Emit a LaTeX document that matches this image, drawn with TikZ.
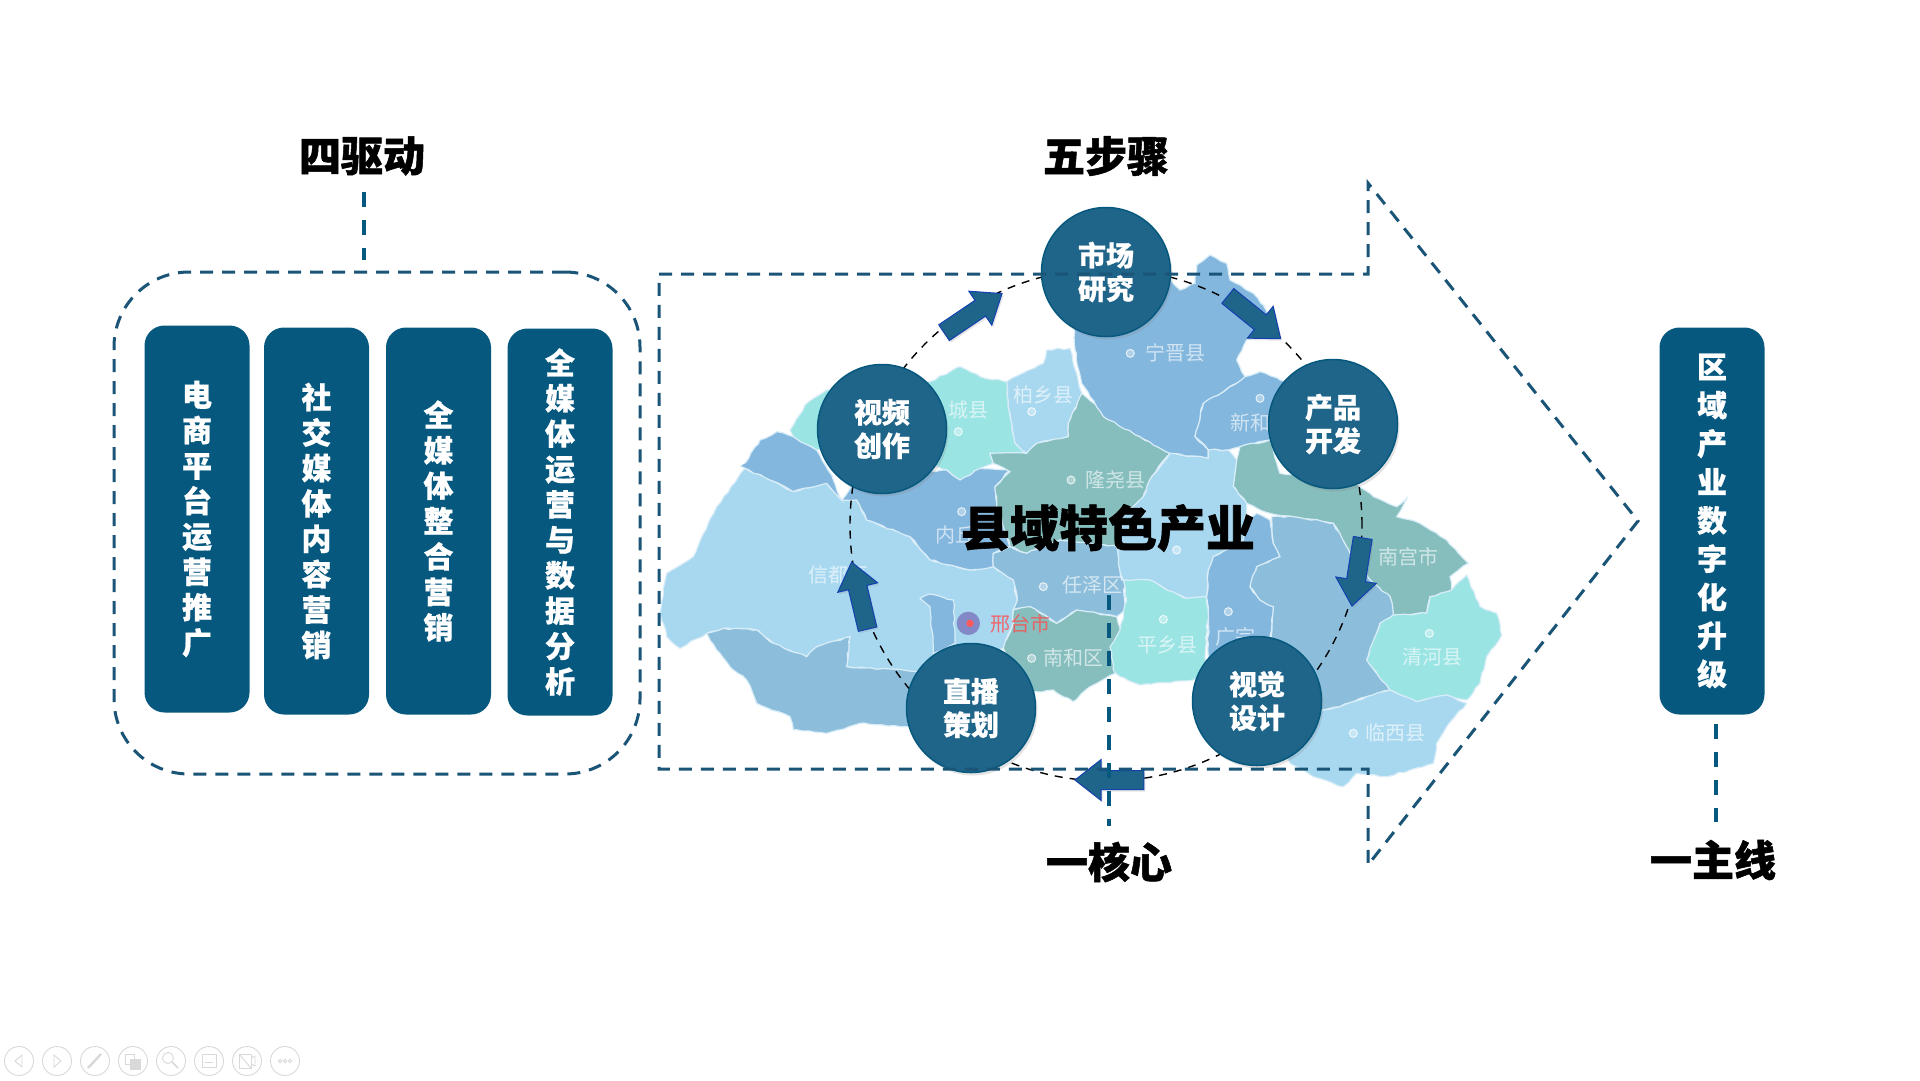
\documentclass[tikz,border=0pt]{standalone}
\usepackage{fontspec}
\setmainfont{Noto Sans CJK SC}[BoldFeatures={FakeBold=0.6}]
\newfontfamily\headfont{Noto Sans CJK SC}[BoldFeatures={FakeBold=1.2}]
\usetikzlibrary{positioning, shapes.arrows, shadows, decorations.pathmorphing}
\definecolor{boxblue}{HTML}{06587F}
\definecolor{stepblue}{HTML}{1F6489}
\definecolor{dashblue}{HTML}{1A5578}
\definecolor{mapsky}{HTML}{A8D8F0}
\definecolor{mapmid}{HTML}{84B7DE}
\definecolor{mapdeep}{HTML}{8CBEDC}
\definecolor{mapteal}{HTML}{86BEBE}
\definecolor{mapaqua}{HTML}{9BE4E4}
\definecolor{toolgray}{HTML}{D9D9D9}
\tikzset{
  drvbox/.style={fill=boxblue,rounded corners=20pt,minimum width=105pt,minimum height=387pt,text=white,align=center,inner sep=0pt,font=\bfseries\fontsize{30}{35.4}\selectfont},
  stepnode/.style={circle,fill=stepblue,draw=boxblue,line width=1.5pt,minimum size=129pt,inner sep=0pt,text=white,align=center,font=\bfseries\fontsize{28}{33.5}\selectfont,drop shadow={opacity=0.22,shadow xshift=2pt,shadow yshift=-3pt}},
  steparrow/.style={single arrow,fill=stepblue,draw=blue!35!stepblue,line width=1pt,inner xsep=0pt,inner ysep=9pt,single arrow head extend=11pt,single arrow tip angle=76,single arrow head indent=0pt,drop shadow={opacity=0.2,shadow xshift=1.5pt,shadow yshift=-2pt}},
  headtext/.style={inner sep=0pt,font=\headfont\bfseries\fontsize{42}{42}\selectfont},
  thinlink/.style={dashblue,line width=3pt,dash pattern=on 13pt off 9pt},
  leadlink/.style={boxblue,line width=4.5pt,dash pattern=on 15pt off 13pt},
  mapreg/.style={draw=white!55!mapsky,line width=1.2pt,decorate,decoration={random steps,segment length=6pt,amplitude=0.9pt}},
  maplabel/.style={text=white,opacity=0.62,inner sep=0pt,font=\fontsize{20}{20}\selectfont},
  mapW/.style={shift={(660,340)},x=0.33333pt,y=-0.33333pt},
  mapN/.style={shift={(1080,240)},x=0.33333pt,y=-0.33333pt},
  mapS/.style={shift={(1080,500)},x=0.33333pt,y=-0.33333pt},
  mapmark/.style={draw=white,fill=white,fill opacity=0.35,draw opacity=0.75,line width=1pt},
  tool/.style={toolgray,line width=0.9pt}
}
\pgfmathsetseed{11}
\begin{document}
\begin{tikzpicture}[x=1pt,y=-1pt]
\useasboundingbox[fill=white] (0,0) rectangle (1920,1080);

% map, west part
\begin{scope}[mapW]
\fill[mapreg,fill=mapsky] (20,700) -- (100,650) -- (170,500) -- (255,385) -- (330,420) -- (400,455) -- (500,430) -- (545,480) -- (590,480) -- (620,540) -- (750,590) -- (810,660) -- (930,690) -- (1000,680) -- (1060,720) -- (1072,780) -- (1060,810) -- (1060,850) -- (1030,925) -- (900,960) -- (800,1000) -- (560,980) -- (570,890) -- (470,920) -- (440,950) -- (340,910) -- (290,870) -- (190,865) -- (140,880) -- (60,925) -- (20,890) -- (0,820) -- cycle;
\fill[mapreg,fill=mapdeep] (140,880) -- (190,865) -- (290,870) -- (340,910) -- (440,950) -- (470,920) -- (570,890) -- (560,980) -- (790,995) -- (830,1100) -- (800,1170) -- (720,1160) -- (600,1150) -- (500,1180) -- (400,1170) -- (390,1130) -- (290,1090) -- (260,1020) -- (210,980) -- (170,930) -- cycle;
\fill[mapreg,fill=mapmid] (255,370) -- (300,300) -- (350,275) -- (400,290) -- (470,330) -- (520,420) -- (545,480) -- (500,430) -- (400,455) -- (330,420) -- (255,385) -- cycle;
\fill[mapreg,fill=mapaqua] (390,270) -- (435,195) -- (500,150) -- (810,125) -- (900,80) -- (960,110) -- (1040,125) -- (1045,200) -- (1065,310) -- (1100,340) -- (990,340) -- (1000,370) -- (960,385) -- (900,420) -- (860,390) -- (600,300) -- (470,330) -- (400,290) -- cycle;
\fill[mapreg,fill=mapsky] (1040,125) -- (1150,70) -- (1160,30) -- (1230,25) -- (1250,100) -- (1265,160) -- (1225,250) -- (1225,290) -- (1130,310) -- (1100,340) -- (1065,310) -- (1045,200) -- cycle;
\fill[mapreg,fill=mapmid] (860,390) -- (900,420) -- (960,385) -- (1050,390) -- (1005,440) -- (1010,490) -- (1050,620) -- (1000,640) -- (1000,680) -- (930,690) -- (810,660) -- (750,590) -- (620,540) -- (590,480) -- (545,480) -- (600,400) -- (700,400) -- cycle;
\fill[mapreg,fill=mapteal] (990,340) -- (1100,340) -- (1130,310) -- (1225,290) -- (1225,250) -- (1265,160) -- (1330,210) -- (1440,290) -- (1530,340) -- (1475,410) -- (1450,470) -- (1380,610) -- (1370,620) -- (1200,600) -- (1100,640) -- (1050,620) -- (1010,490) -- (1005,440) -- (1050,395) -- (1000,370) -- cycle;
\fill[mapreg,fill=mapdeep] (1000,640) -- (1050,620) -- (1100,640) -- (1200,600) -- (1370,620) -- (1385,720) -- (1410,710) -- (1390,750) -- (1395,810) -- (1370,830) -- (1250,810) -- (1190,850) -- (1110,800) -- (1060,810) -- (1072,780) -- (1060,720) -- (1000,680) -- cycle;
\fill[mapreg,fill=mapteal] (1060,810) -- (1110,800) -- (1190,850) -- (1250,810) -- (1370,830) -- (1385,880) -- (1355,930) -- (1365,1000) -- (1290,1040) -- (1240,1085) -- (1180,1050) -- (1100,1060) -- (1030,925) -- (1060,850) -- cycle;
\fill[mapreg,fill=mapmid] (780,775) -- (810,762) -- (880,780) -- (885,910) -- (820,940) -- (810,800) -- cycle;
\fill[fill=mapmid!75!violet] (925,850) circle (35);
\fill[red!65!white] (930,850) circle (11);
\end{scope}

% map, north part
\begin{scope}[mapN]
\fill[mapreg,fill=mapmid] (-20,100) -- (272,120) -- (300,150) -- (345,130) -- (350,75) -- (390,45) -- (440,70) -- (450,120) -- (520,160) -- (550,195) -- (590,280) -- (500,300) -- (470,360) -- (495,410) -- (470,430) -- (370,490) -- (345,590) -- (385,630) -- (385,655) -- (270,640) -- (180,590) -- (70,530) -- (5,430) -- (-15,330) -- cycle;
\fill[mapreg,fill=mapmid] (495,410) -- (540,395) -- (600,420) -- (700,450) -- (700,600) -- (570,600) -- (480,620) -- (445,630) -- (385,630) -- (345,590) -- (370,490) -- (470,430) -- cycle;
\fill[mapreg,fill=mapsky] (270,640) -- (385,655) -- (385,630) -- (445,630) -- (470,660) -- (460,740) -- (500,790) -- (500,840) -- (490,900) -- (400,950) -- (385,990) -- (380,1070) -- (320,1075) -- (260,1050) -- (210,1020) -- (130,1020) -- (115,970) -- (110,910) -- (120,840) -- (190,770) -- (215,710) -- cycle;
\fill[mapreg,fill=mapteal] (480,620) -- (570,600) -- (600,700) -- (830,730) -- (880,770) -- (950,800) -- (980,775) -- (950,830) -- (1020,850) -- (1100,900) -- (1165,970) -- (1110,1010) -- (1115,1050) -- (1050,1070) -- (1040,1120) -- (940,1125) -- (930,1070) -- (880,1030) -- (810,940) -- (760,850) -- (640,830) -- (570,820) -- (500,790) -- (460,740) -- (470,660) -- cycle;
\end{scope}

% map, south part
\begin{scope}[mapS]
\fill[mapreg,fill=mapaqua] (130,240) -- (210,240) -- (260,270) -- (320,295) -- (380,290) -- (385,340) -- (375,470) -- (385,520) -- (340,540) -- (180,555) -- (120,530) -- (100,510) -- (90,440) -- (120,390) -- (140,300) -- cycle;
\fill[mapreg,fill=mapmid] (530,40) -- (570,60) -- (580,130) -- (600,170) -- (530,200) -- (510,260) -- (540,300) -- (580,320) -- (570,440) -- (385,470) -- (385,340) -- (380,290) -- (385,210) -- (400,170) -- (490,120) -- (500,60) -- cycle;
\fill[mapreg,fill=mapdeep] (575,50) -- (640,50) -- (760,70) -- (810,160) -- (880,250) -- (930,290) -- (940,345) -- (900,370) -- (860,480) -- (930,570) -- (860,590) -- (780,620) -- (730,630) -- (600,600) -- (570,440) -- (580,320) -- (540,300) -- (510,260) -- (530,200) -- (600,170) -- (580,130) -- cycle;
\fill[mapreg,fill=mapaqua] (940,345) -- (1040,340) -- (1050,290) -- (1115,270) -- (1160,225) -- (1200,320) -- (1250,340) -- (1265,405) -- (1220,470) -- (1200,550) -- (1160,600) -- (1100,585) -- (1010,605) -- (930,570) -- (860,480) -- (900,370) -- cycle;
\fill[mapreg,fill=mapsky] (730,630) -- (780,620) -- (860,590) -- (930,570) -- (1010,605) -- (1100,585) -- (1160,610) -- (1100,680) -- (1070,730) -- (1060,790) -- (990,810) -- (920,830) -- (830,820) -- (790,860) -- (700,830) -- (630,790) -- (600,700) -- cycle;
\end{scope}

% map names
\foreach \mx/\my in {1115/215,895/275,1233/420,905/515,1150/740,1115/955,1411/40,1800/175}
  \draw[mapmark,shift={(660,340)},x=0.33333pt,y=-0.33333pt] (\mx,\my) circle (12);
\foreach \mx/\my in {250/358,445/335,290/150,1048/400,820/700}
  \draw[mapmark,shift={(1080,500)},x=0.33333pt,y=-0.33333pt] (\mx,\my) circle (12);
\node[maplabel] (ningjin) at (1175,353) {宁晋县};
\node[maplabel] (baixiang) at (1043,395) {柏乡县};
\node[maplabel] (lincheng) at (968,410) {城县};
\node[maplabel] (longyao) at (1115,480) {隆尧县};
\node[maplabel] (xinhe) at (1250,423) {新和};
\node[maplabel] (neiqiu) at (955,535) {内丘};
\node[maplabel] (renze) at (1092,585) {任泽区};
\node[maplabel] (xindu) at (838,575) {信都区};
\node[maplabel] (nanhe) at (1073,658) {南和区};
\node[maplabel] (pingxiang) at (1167,645) {平乡县};
\node[maplabel] (guangzong) at (1235,637) {广宗};
\node[maplabel] (nangong) at (1408,557) {南宫市};
\node[maplabel] (qinghe) at (1432,657) {清河县};
\node[maplabel] (linxi) at (1395,733) {临西县};
\node[maplabel,text=red!70!white,opacity=0.8] (xingtai) at (1020,624) {邢台市};

% five steps
\node[circle,draw=black,line width=1.4pt,dash pattern=on 8pt off 7pt,minimum size=512pt,inner sep=0pt] (ring) at (1106,525) {};
\node[steparrow,minimum height=70pt,rotate=34] (arrVM) at (968,316.5) {};
\node[steparrow,minimum height=68pt,rotate=-39] (arrMP) at (1249.5,313.5) {};
\node[steparrow,minimum height=69pt,rotate=-99] (arrPD) at (1358.3,566) {};
\node[steparrow,minimum height=69pt,rotate=180] (arrDL) at (1115.5,780) {};
\node[steparrow,minimum height=69pt,rotate=103.4] (arrLV) at (861,601.5) {};
\node[stepnode] (market) at (1106,272) {市场\\研究};
\node[stepnode] (product) at (1333,424) {产品\\开发};
\node[stepnode] (design) at (1257,701) {视觉\\设计};
\node[stepnode] (live) at (971,708) {直播\\策划};
\node[stepnode] (video) at (882,429) {视频\\创作};

% big arrow
\draw[thinlink] (659,274) -- (1368,274) -- (1368,183) -- (1638,521) -- (1368,865) -- (1368,769) -- (659,769) -- cycle;
\node[inner sep=0pt,font=\headfont\bfseries\fontsize{49}{49}\selectfont] (core) at (1108,528) {县域特色产业};

% four drivers
\node[draw=dashblue,line width=3pt,dash pattern=on 13pt off 9pt,rounded corners=75pt,minimum width=526pt,minimum height=502pt,inner sep=0pt] (drvFrame) at (377,523) {};
\node[drvbox] (drv1) at (197,519) {电\\商\\平\\台\\运\\营\\推\\广};
\node[drvbox] (drv2) at (316.5,521) {社\\交\\媒\\体\\内\\容\\营\\销};
\node[drvbox] (drv3) at (438.5,521) {全\\媒\\体\\整\\合\\营\\销};
\node[drvbox] (drv4) at (560,522) {全\\媒\\体\\运\\营\\与\\数\\据\\分\\析};
\node[drvbox,font=\bfseries\fontsize{30}{38.4}\selectfont] (mainBox) at (1712,521) {区\\域\\产\\业\\数\\字\\化\\升\\级};

% titles
\node[headtext] (titleDrv) at (362,156) {四驱动};
\node[headtext] (titleStep) at (1106,156) {五步骤};
\node[headtext] (titleCore) at (1109,862) {一核心};
\node[headtext] (titleMain) at (1713,860) {一主线};
\coordinate (drvEnd) at (364,192);
\coordinate (drvTop) at (364,260);
\coordinate (coreTop) at (1109,595);
\coordinate (coreEnd) at (1109,826);
\coordinate (mainTop) at (1716,724);
\coordinate (mainEnd) at (1716,822);
\draw[leadlink] (drvEnd) -- (drvTop);
\draw[leadlink] (coreTop) -- (coreEnd);
\draw[leadlink] (mainTop) -- (mainEnd);

% player buttons
\foreach \bx in {19,57,95,133,171,209,247,285}
  \draw[tool] (\bx,1061) circle (14.5);
\draw[tool] (22,1055) -- (15,1061) -- (22,1067) -- cycle;
\draw[tool] (54,1055) -- (61,1061) -- (54,1067) -- cycle;
\draw[tool,line width=2.4pt] (88,1068) -- (101,1054);
\draw[tool] (125,1054) rectangle (134,1064);
\draw[tool,fill=toolgray] (130,1059) rectangle (140,1069);
\draw[tool] (168,1058) circle (5.5);
\draw[tool,line width=1.6pt] (172,1062) -- (178,1068);
\draw[tool] (202,1054) rectangle (216,1067);
\draw[tool] (205,1062) -- (213,1062);
\draw[tool] (239,1054) rectangle (251,1068);
\draw[tool] (239,1054) -- (251,1068);
\draw[tool] (251,1058) -- (255,1056) -- (255,1066) -- (251,1064);
\foreach \bx in {280,285,290}
  \draw[tool] (\bx,1061) circle (1.8);
\end{tikzpicture}
\end{document}
